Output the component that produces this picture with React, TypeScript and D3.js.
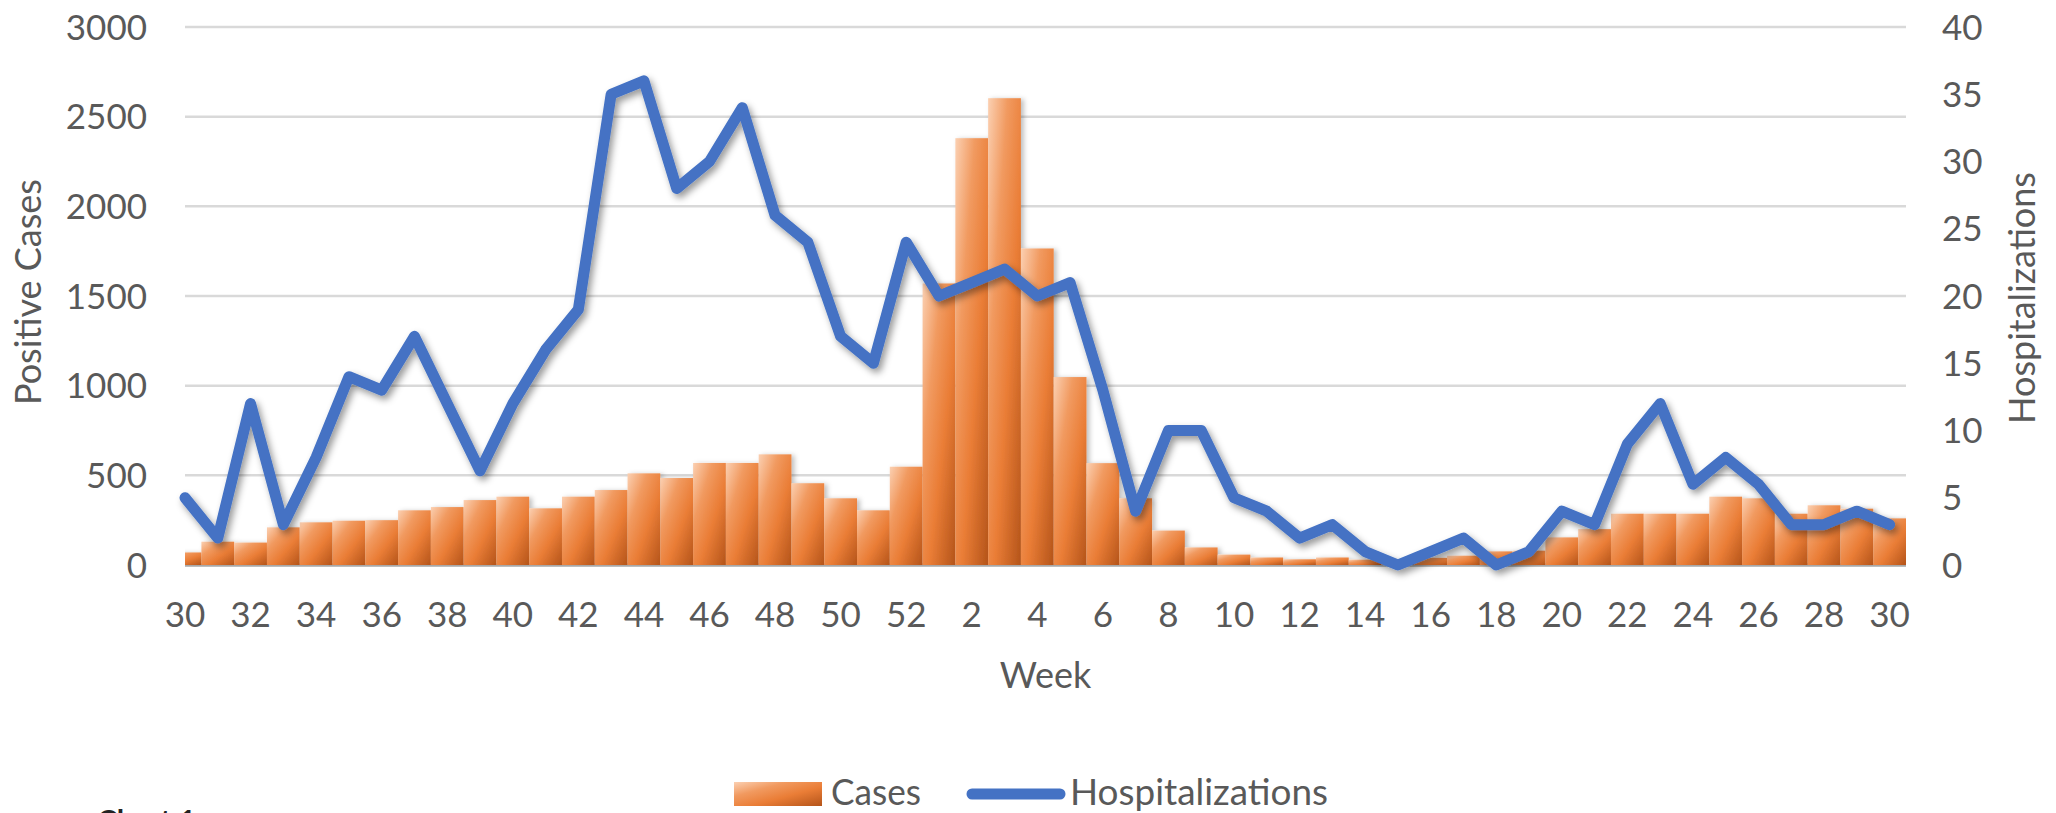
import React from "react";
import * as d3 from "d3";

// Week categories: week 30 of year 1 through week 30 of year 2
const weeks: string[] = [
  "30","31","32","33","34","35","36","37","38","39","40","41","42","43","44","45","46","47","48","49","50","51","52",
  "1","2","3","4","5","6","7","8","9","10","11","12","13","14","15","16","17","18","19","20","21","22","23","24","25","26","27","28","29","30",
];

// Positive cases (left axis)
const cases: number[] = [
  70, 130, 125, 210, 238, 247, 250, 305, 323, 362, 381, 316, 381, 418, 511, 485, 569, 569, 617, 456, 372, 305, 548,
  1570, 2380, 2603, 1765, 1048, 568, 372, 192, 98, 58, 42, 32, 42, 30, 20, 40, 52, 76, 80, 154, 200, 286, 286, 286, 381, 372, 286, 333, 314, 260,
];

// Hospitalizations (right axis)
const hospitalizations: number[] = [
  5, 2, 12, 3, 8, 14, 13, 17, 12, 7, 12, 16, 19, 35, 36, 28, 30, 34, 26, 24, 17, 15, 24,
  20, 21, 22, 20, 21, 13, 4, 10, 10, 5, 4, 2, 3, 1, 0, 1, 2, 0, 1, 4, 3, 9, 12, 6, 8, 6, 3, 3, 4, 3,
];

const leftTicks: number[] = [0, 500, 1000, 1500, 2000, 2500, 3000];
const rightTicks: number[] = [0, 5, 10, 15, 20, 25, 30, 35, 40];

const W = 2056;
const H = 813;
const PL = 185;
const PR = 1906;
const PT = 27;
const PB = 565;
const FONT = "Lato, 'Open Sans', sans-serif";
const TXT = "#595959";

export default function App() {
  const x = d3.scaleLinear().domain([0, weeks.length - 0.5]).range([PL, PR]);
  const step = x(1) - x(0);
  const yL = d3.scaleLinear().domain([0, 3000]).range([PB, PT]);
  const yR = d3.scaleLinear().domain([0, 40]).range([PB, PT]);
  const line = d3
    .line<number>()
    .x((_, i) => x(i))
    .y((d) => yR(d))
    .curve(d3.curveLinear);

  return (
    <svg
      width={W}
      height={H}
      style={{ position: "absolute", left: 0, top: 0, background: "#fff" }}
      fontFamily={FONT}
    >
      <defs>
        <linearGradient id="barGrad" x1="0" y1="0" x2="1" y2="1">
          <stop offset="0" stopColor="#fbd0b2" />
          <stop offset="0.3" stopColor="#f19a60" />
          <stop offset="0.6" stopColor="#ea7d36" />
          <stop offset="1" stopColor="#b4541a" />
        </linearGradient>
        <clipPath id="plotClip">
          <rect x={PL} y={0} width={PR - PL} height={PB + 2} />
        </clipPath>
        <filter id="lineShadow" x="-10%" y="-10%" width="120%" height="130%">
          <feDropShadow dx="3" dy="4" stdDeviation="3.5" floodColor="#000" floodOpacity="0.4" />
        </filter>
        <filter id="barShadow" x="-10%" y="-10%" width="120%" height="120%">
          <feDropShadow dx="3" dy="1" stdDeviation="2.5" floodColor="#000" floodOpacity="0.25" />
        </filter>
      </defs>

      {/* gridlines */}
      {leftTicks.map((t) => (
        <line
          key={"g" + t}
          x1={PL}
          x2={PR}
          y1={yL(t)}
          y2={yL(t)}
          stroke={t === 0 ? "#c4c4c4" : "#d9d9d9"}
          strokeWidth={t === 0 ? 3.5 : 2.5}
        />
      ))}

      {/* bars */}
      <g clipPath="url(#plotClip)">
        <g filter="url(#barShadow)">
          {cases.map((v, i) => (
            <rect
              key={"b" + i}
              x={x(i) - step / 2}
              y={yL(v)}
              width={step}
              height={PB - yL(v)}
              fill="url(#barGrad)"
            />
          ))}
        </g>
      </g>

      {/* line */}
      <path
        d={line(hospitalizations) || ""}
        fill="none"
        stroke="#4472c4"
        strokeWidth={11}
        strokeLinejoin="round"
        strokeLinecap="round"
        filter="url(#lineShadow)"
      />

      {/* left axis labels */}
      {leftTicks.map((t) => (
        <text
          key={"l" + t}
          x={147}
          y={yL(t)}
          dy="0.36em"
          textAnchor="end"
          fontSize={35}
          fill={TXT}
        >
          {t}
        </text>
      ))}

      {/* right axis labels */}
      {rightTicks.map((t) => (
        <text
          key={"r" + t}
          x={1942}
          y={yR(t)}
          dy="0.36em"
          textAnchor="start"
          fontSize={35}
          fill={TXT}
        >
          {t}
        </text>
      ))}

      {/* x tick labels */}
      {weeks.map((w, i) =>
        i % 2 === 0 ? (
          <text key={"x" + i} x={x(i)} y={627} textAnchor="middle" fontSize={35} fill={TXT}>
            {w}
          </text>
        ) : null
      )}

      {/* axis titles */}
      <text x={(PL + PR) / 2} y={688} textAnchor="middle" fontSize={36} fill={TXT}>
        Week
      </text>
      <text
        transform={`translate(41, 292) rotate(-90)`}
        textAnchor="middle"
        fontSize={36}
        fill={TXT}
      >
        Positive Cases
      </text>
      <text
        transform={`translate(2035, 298) rotate(-90)`}
        textAnchor="middle"
        fontSize={36}
        fill={TXT}
      >
        Hospitalizations
      </text>

      {/* legend */}
      <rect x={734} y={782} width={88} height={24} fill="url(#barGrad)" />
      <text x={831} y={805} fontSize={36} fill={TXT} textLength={90} lengthAdjust="spacingAndGlyphs">
        Cases
      </text>
      <line x1={972} x2={1060} y1={794} y2={794} stroke="#4472c4" strokeWidth={11} strokeLinecap="round" />
      <text x={1070} y={805} fontSize={36} fill={TXT} textLength={258} lengthAdjust="spacingAndGlyphs">
        Hospitalizations
      </text>

      {/* cut-off caption at the bottom, as in the source */}
      <text x={97} y={832} fontSize={30} fontWeight="bold" fill="#222">
        Chart 1
      </text>
    </svg>
  );
}
